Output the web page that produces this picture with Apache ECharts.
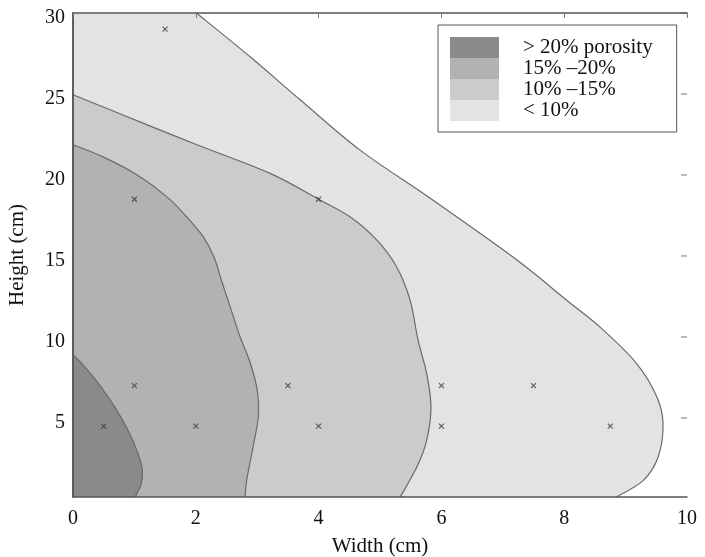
<!DOCTYPE html>
<html>
<head>
<meta charset="utf-8">
<script src="https://cdn.jsdelivr.net/npm/echarts@6/dist/echarts.min.js"></script>
<style>
html,body{margin:0;padding:0;background:#fff;}
#chart{width:705px;height:557px;}
</style>
</head>
<body>
<div id="chart"></div>
<script>
// Axis ranges and tick labels
const xRange = [0, 10];
const yRange = [0.12, 30];
const xTickValues = [0, 2, 4, 6, 8, 10];
const yTickValues = [5, 10, 15, 20, 25, 30];

// Legend / level names
const levelNames = ['> 20% porosity', '15% \u201320%', '10% \u201315%', '< 10%'];

// Contour boundaries (width cm, height cm)
const boundaryGt20 = [[0,8.9],[0.17,8.25],[0.44,7.0],[0.71,5.5],[0.92,4.05],[1.06,2.8],[1.13,1.8],[1.11,0.9],[1.01,0.12]];
const boundary15to20 = [[0,21.86],[0.49,21.12],[1.04,20.01],[1.53,18.65],[1.85,17.42],[2.12,16.19],[2.3,14.89],[2.43,13.35],[2.56,11.86],[2.72,10.01],[2.88,8.47],[3.0,6.74],[3.02,5.14],[2.93,3.16],[2.83,1.19],[2.8,0.12]];
const boundary10to15 = [[0,24.95],[1.25,23.03],[2.07,21.79],[3.21,20.1],[4.0,18.5],[4.51,17.42],[4.95,15.98],[5.27,14.33],[5.49,12.27],[5.62,9.8],[5.76,7.74],[5.83,5.68],[5.76,3.62],[5.6,1.97],[5.33,0.12]];
const boundaryLt10 = [[2.01,30],[2.88,27.31],[3.7,24.64],[4.67,21.55],[5.86,18.45],[7.23,14.75],[8.04,12.27],[8.58,10.62],[9.18,8.36],[9.51,6.3],[9.61,4.65],[9.53,2.59],[9.29,1.15],[8.85,0.12]];

// Sample points (x markers)
const sampleX = [1.5, 1, 4, 1, 3.5, 6, 7.5, 0.5, 2, 4, 6, 8.75];
const sampleY = [29, 18.5, 18.5, 7, 7, 7, 7, 4.5, 4.5, 4.5, 4.5, 4.5];

const fillColors = ['#8a8a8a', '#b2b2b2', '#cbcbcb', '#e3e3e3'];
const FONT = 'Liberation Serif';

function bezierPath(px) {
  let d = 'M' + px[0][0] + ' ' + px[0][1];
  for (let i = 0; i < px.length - 1; i++) {
    const p0 = px[Math.max(i - 1, 0)], p1 = px[i], p2 = px[i + 1], p3 = px[Math.min(i + 2, px.length - 1)];
    const c1 = [p1[0] + (p2[0] - p0[0]) / 6, p1[1] + (p2[1] - p0[1]) / 6];
    const c2 = [p2[0] - (p3[0] - p1[0]) / 6, p2[1] - (p3[1] - p1[1]) / 6];
    d += ' C' + c1[0] + ' ' + c1[1] + ' ' + c2[0] + ' ' + c2[1] + ' ' + p2[0] + ' ' + p2[1];
  }
  return d;
}

function regionSeries(name, curve, corners, color, z) {
  return {
    type: 'custom',
    name: name,
    coordinateSystem: 'cartesian2d',
    xAxisIndex: 0, yAxisIndex: 0,
    data: [curve[0]],
    z: z,
    itemStyle: { color: color },
    silent: true,
    renderItem: function (params, api) {
      const px = curve.map(p => api.coord(p));
      const cpx = corners.map(p => api.coord(p));
      const line = bezierPath(px);
      const fill = line + cpx.map(c => ' L' + c[0] + ' ' + c[1]).join('') + ' Z';
      return {
        type: 'group',
        children: [
          { type: 'path', shape: { pathData: fill }, style: { fill: color, stroke: 'none' } },
          { type: 'path', shape: { pathData: line }, style: { fill: 'none', stroke: '#6a6a6a', lineWidth: 1.2 } }
        ]
      };
    }
  };
}

const chart = echarts.init(document.getElementById('chart'), null, { renderer: 'canvas' });
const yMin = yRange[0], yMax = yRange[1];

chart.setOption({
  animation: false,
  backgroundColor: '#fff',
  grid: { left: 73, right: 18, top: 13, bottom: 60, containLabel: false, outerBoundsMode: 'none' },
  legend: {
    orient: 'vertical',
    left: 438, top: 25,
    padding: [12, 24, 11, 12],
    itemGap: 0,
    itemWidth: 49, itemHeight: 21,
    icon: 'rect',
    borderColor: '#555', borderWidth: 1,
    backgroundColor: '#fff',
    selectedMode: false,
    data: levelNames,
    textStyle: { fontFamily: FONT, fontSize: 21, color: '#111', padding: [0, 0, 0, 19] }
  },
  xAxis: [
    {
      type: 'value', position: 'bottom', min: xRange[0], max: xRange[1], interval: 2, z: 10,
      name: 'Width (cm)', nameLocation: 'middle', nameGap: 39,
      nameTextStyle: { fontFamily: FONT, fontSize: 21, color: '#111' },
      axisLine: { show: true, lineStyle: { color: '#555', width: 1.5 } },
      axisTick: { show: false },
      splitLine: { show: false },
      axisLabel: { fontFamily: FONT, fontSize: 20, color: '#111', margin: 12,
        customValues: xTickValues }
    },
    {
      type: 'value', position: 'top', min: xRange[0], max: xRange[1], interval: 2, z: 10,
      axisLine: { show: true, lineStyle: { color: '#555', width: 1.5 } },
      axisTick: { show: true, inside: true, length: 5, lineStyle: { color: '#777' } },
      splitLine: { show: false },
      axisLabel: { show: false }
    }
  ],
  yAxis: [
    {
      type: 'value', position: 'left', min: yMin, max: yMax, z: 10,
      name: 'Height (cm)', nameLocation: 'middle', nameGap: 45,
      nameTextStyle: { fontFamily: FONT, fontSize: 21, color: '#111' },
      axisLine: { show: true, lineStyle: { color: '#555', width: 1.5 } },
      axisTick: { show: false },
      splitLine: { show: false },
      axisLabel: {
        margin: 8,
        customValues: yTickValues,
        formatter: function (v) { return '{v|' + v + '}'; },
        rich: { v: { fontFamily: FONT, fontSize: 20, color: '#111', lineHeight: 20, padding: [9, 0, 0, 0] } }
      }
    },
    {
      type: 'value', position: 'right', min: yMin, max: yMax, z: 10,
      axisLine: { show: true, lineStyle: { color: '#555', width: 1.5 } },
      axisTick: { show: false },
      splitLine: { show: false },
      axisLabel: { show: false }
    }
  ],
  series: [
    regionSeries(levelNames[3], boundaryLt10, [[0, yMin], [0, yMax]], fillColors[3], 2),
    regionSeries(levelNames[2], boundary10to15, [[0, yMin]], fillColors[2], 3),
    regionSeries(levelNames[1], boundary15to20, [[0, yMin]], fillColors[1], 4),
    regionSeries(levelNames[0], boundaryGt20, [[0, yMin]], fillColors[0], 5),
    {
      type: 'scatter',
      name: 'samples',
      z: 8,
      silent: true,
      symbol: 'path://M0,0L10,10M10,0L0,10',
      symbolSize: 5,
      itemStyle: { color: 'rgba(0,0,0,0)', borderColor: '#3c3c3c', borderWidth: 1.2 },
      data: sampleX.map((x, i) => [x, sampleY[i]])
    },
    {
      // inward tick marks on the right frame edge
      type: 'custom',
      name: 'rightTicks',
      coordinateSystem: 'cartesian2d',
      silent: true,
      z: 9,
      data: yTickValues.map(v => [xRange[1], v]),
      renderItem: function (params, api) {
        const p = api.coord([api.value(0), api.value(1)]);
        return { type: 'line', shape: { x1: p[0] - 6, y1: p[1], x2: p[0], y2: p[1] },
          style: { stroke: '#777', lineWidth: 1 } };
      }
    }
  ]
});
</script>
</body>
</html>
